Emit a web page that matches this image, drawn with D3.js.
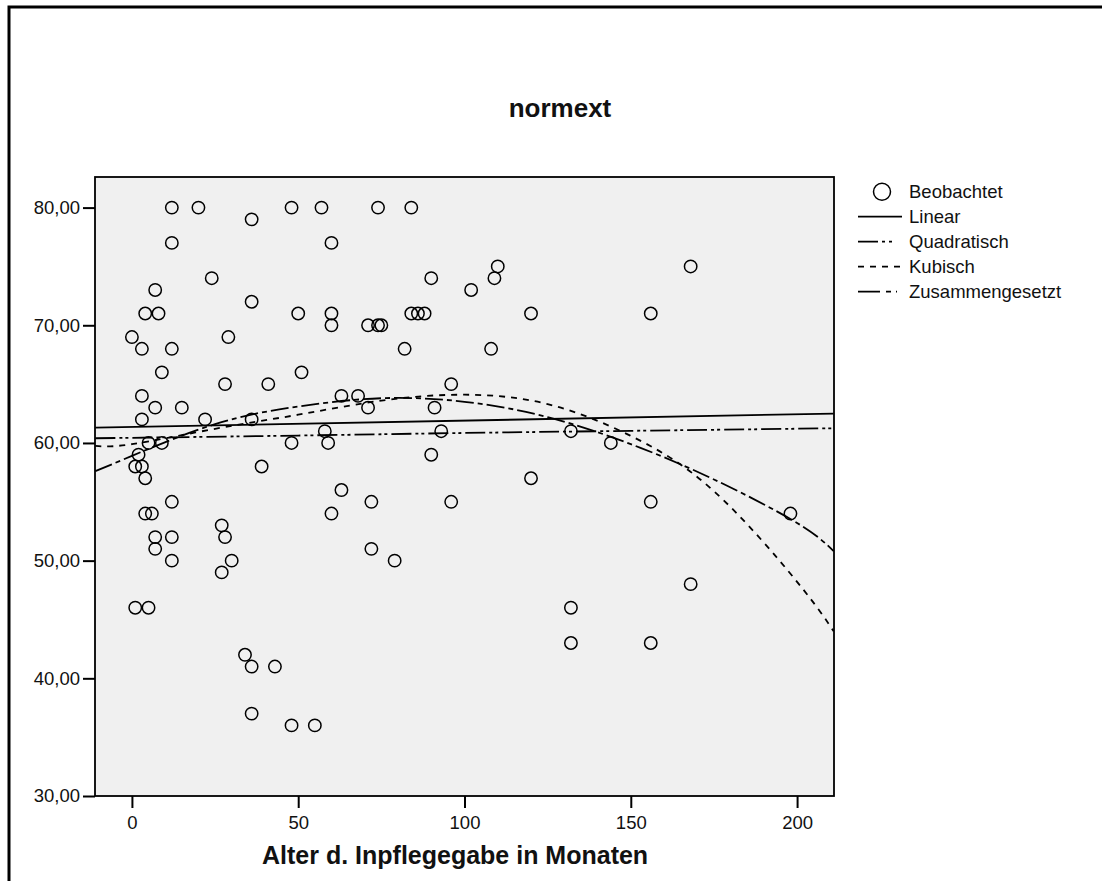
<!DOCTYPE html>
<html><head><meta charset="utf-8">
<script src="https://cdn.jsdelivr.net/npm/d3@7"></script>
<style>html,body{margin:0;padding:0;background:#fff;overflow:hidden;}svg{display:block;}</style>
</head><body>
<script>
// Observed points: months (x) and normext (y)
const obsX = [0,3,3,3,4,8,7,9,7,5,9,2,1,3,4,12,20,12,12,15,24,29,28,22,36,36,41,36,39,48,48,50,51,
  4,6,12,7,7,12,12,27,28,27,30,1,5,34,36,43,36,48,55,
  57,74,84,60,90,102,60,60,71,74,75,84,86,88,82,96,63,68,71,91,58,93,59,90,63,72,96,60,72,79,
  110,109,168,120,156,108,132,144,120,156,198,168,132,132,156];
const obsY = [69,68,64,62,71,71,73,66,63,60,60,59,58,58,57,80,80,77,68,63,74,69,65,62,79,72,65,62,58,80,60,71,66,
  54,54,55,52,51,52,50,53,52,49,50,46,46,42,41,41,37,36,36,
  80,80,80,77,74,73,71,70,70,70,70,71,71,71,68,65,64,64,63,63,61,61,60,59,56,55,55,54,51,50,
  75,74,75,71,71,68,61,60,57,55,54,48,46,43,43];

// Fitted curves
const linX = [-11, 211];
const linY = [61.3, 62.5];
const quadX = [-11, 0, 25, 50, 75, 100, 125, 150, 175, 200, 211];
const quadY = [57.6, 58.9, 61.6, 63.1, 63.8, 63.5, 62.2, 59.9, 56.9, 53.2, 50.8];
const cubX = [-11, 0, 25, 50, 75, 100, 125, 150, 175, 200, 211];
const cubY = [59.75, 59.9, 61.2, 62.4, 63.6, 64.1, 63.3, 60.6, 55.9, 48.2, 44.0];
const compX = [-11, 50, 100, 150, 211];
const compY = [60.40, 60.63, 60.85, 61.03, 61.25];

const xTicks = [0, 50, 100, 150, 200];
const yTicks = [30, 40, 50, 60, 70, 80];
const legendLabels = ["Beobachtet", "Linear", "Quadratisch", "Kubisch", "Zusammengesetzt"];
const titleText = "normext";
const xTitle = "Alter d. Inpflegegabe in Monaten";

const W = 1102, H = 881;
const P = {left: 95, right: 834, top: 177, bottom: 796};
const FONT = "Arial, 'Liberation Sans', sans-serif";

const svg = d3.select("body").append("svg").attr("width", W).attr("height", H);

// outer frame (left and top edges visible)
svg.append("path").attr("d", `M9,${H + 5} L9,7 L${W + 5},7`)
  .attr("fill", "none").attr("stroke", "#000").attr("stroke-width", 3);

const x = d3.scaleLinear().domain([-11.1, 211.1]).range([P.left, P.right]);
const y = d3.scaleLinear().domain([30, 82.6]).range([P.bottom, P.top]);

svg.append("rect").attr("x", P.left).attr("y", P.top)
  .attr("width", P.right - P.left).attr("height", P.bottom - P.top)
  .attr("fill", "#f0f0f0");

svg.append("clipPath").attr("id", "clip").append("rect")
  .attr("x", P.left).attr("y", P.top).attr("width", P.right - P.left).attr("height", P.bottom - P.top);

const fmt = v => d3.format(".2f")(v).replace(".", ",");

// axes
const yAxis = svg.append("g").attr("transform", `translate(${P.left},0)`)
  .call(d3.axisLeft(y).tickValues(yTicks).tickFormat(fmt).tickSize(12).tickPadding(3));
const xAxis = svg.append("g").attr("transform", `translate(0,${P.bottom})`)
  .call(d3.axisBottom(x).tickValues(xTicks).tickFormat(d3.format("d")).tickSize(12).tickPadding(8));
[yAxis, xAxis].forEach(g => {
  g.select(".domain").remove();
  g.selectAll(".tick line").attr("stroke", "#000").attr("stroke-width", 2);
  g.selectAll(".tick text").attr("fill", "#111").style("font-family", FONT).style("font-size", "18.5px");
});

const plot = svg.append("g").attr("clip-path", "url(#clip)");

const line = d3.line().x(d => x(d[0])).y(d => y(d[1])).curve(d3.curveNatural);
const curves = [
  {xs: linX, ys: linY, dash: null},
  {xs: quadX, ys: quadY, dash: "18,4,5,4"},
  {xs: cubX, ys: cubY, dash: "6,6"},
  {xs: compX, ys: compY, dash: "20,4,3,3,3,4"}
];
curves.forEach(c => {
  plot.append("path").datum(c.xs.map((v, i) => [v, c.ys[i]]))
    .attr("d", line).attr("fill", "none").attr("stroke", "#000")
    .attr("stroke-width", 1.8).attr("stroke-dasharray", c.dash);
});

plot.selectAll("circle.obs").data(obsX.map((v, i) => [v, obsY[i]])).join("circle")
  .attr("class", "obs").attr("cx", d => x(d[0])).attr("cy", d => y(d[1])).attr("r", 6.2)
  .attr("fill", "none").attr("stroke", "#000").attr("stroke-width", 1.5);

// plot border
svg.append("rect").attr("x", P.left).attr("y", P.top)
  .attr("width", P.right - P.left).attr("height", P.bottom - P.top)
  .attr("fill", "none").attr("stroke", "#000").attr("stroke-width", 1.8);

// title
svg.append("text").attr("x", 560).attr("y", 117).attr("text-anchor", "middle")
  .style("font-family", FONT).style("font-weight", "bold")
  .style("font-size", "26px").attr("fill", "#111").text(titleText);

// x title
svg.append("text").attr("x", 262).attr("y", 864).attr("text-anchor", "start")
  .style("font-family", FONT).style("font-weight", "bold")
  .style("font-size", "25px").attr("fill", "#111").text(xTitle);

// legend
const legY0 = 191.7, legDy = 25, lx0 = 858, lx1 = 902, tx = 909;
const legDash = [null, null, "20,4,3,4,3,10", "6,6", "22,6,5,5,1,20"];
const lg = svg.append("g");
legendLabels.forEach((lab, i) => {
  const yy = legY0 + i * legDy;
  if (i === 0) {
    lg.append("circle").attr("cx", 882).attr("cy", yy).attr("r", 8.5)
      .attr("fill", "none").attr("stroke", "#000").attr("stroke-width", 1.5);
  } else {
    lg.append("line").attr("x1", lx0).attr("x2", lx1).attr("y1", yy).attr("y2", yy)
      .attr("stroke", "#000").attr("stroke-width", 1.8).attr("stroke-dasharray", legDash[i]);
  }
  lg.append("text").attr("x", tx).attr("y", yy + 6.6)
    .style("font-family", FONT).style("font-size", "18.5px")
    .attr("fill", "#111").text(lab);
});
</script>
</body></html>
